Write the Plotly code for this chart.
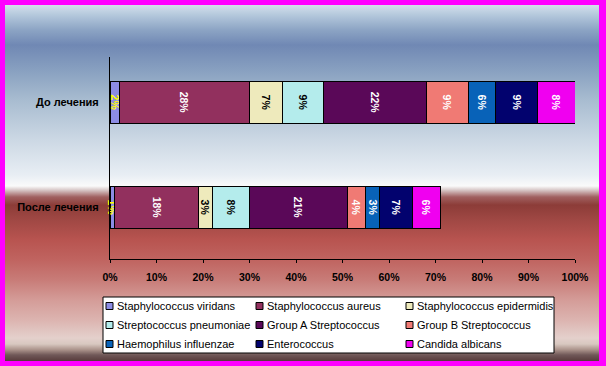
import base64
import plotly.graph_objects as go

# ---------------- data ----------------
categories = ["До лечения", "После лечения"]
series_names = [
    "Staphylococcus viridans", "Staphylococcus aureus", "Staphylococcus epidermidis",
    "Streptococcus pneumoniae", "Group A Streptococcus", "Group B Streptococcus",
    "Haemophilus influenzae", "Enterococcus", "Candida albicans",
]
before_values = [2, 28, 7, 9, 22, 9, 6, 9, 8]
after_values = [1, 18, 3, 8, 21, 4, 3, 7, 6]
x_tick_values = [0, 10, 20, 30, 40, 50, 60, 70, 80, 90, 100]
x_tick_labels = ["0%", "10%", "20%", "30%", "40%", "50%", "60%", "70%", "80%", "90%", "100%"]

# ---------------- styles ----------------
colors = ["#8c8ce4", "#92305e", "#eeeabc", "#b4ecec", "#5a0858",
          "#f07a74", "#0862b8", "#02026e", "#f000f0"]
label_colors = ["#ffff00", "#ffffff", "#000000", "#000000", "#ffffff",
                "#ffffff", "#ffffff", "#ffffff", "#ffffff"]

W, H = 606, 366
L, R, T, B = 110, 31, 57, 107
PW, PH = W - L - R, H - T - B


def px2x(px):
    return (px - L) / PW


def px2y(py):
    return (H - B - py) / PH


fig = go.Figure()
for i, name in enumerate(series_names):
    vals = [before_values[i], after_values[i]]
    fig.add_trace(go.Bar(
        name=name,
        orientation="h",
        y=categories,
        x=vals,
        text=[f"{v}%" for v in vals],
        textposition="inside",
        insidetextanchor="middle",
        textangle=90,
        constraintext="none",
        cliponaxis=False,
        textfont=dict(family="Liberation Sans", size=10.5, color=label_colors[i], weight="bold"),
        marker=dict(color=colors[i], line=dict(color="#000000", width=1)),
        width=0.396,
        hoverinfo="skip",
        showlegend=False,
    ))

# ---------------- background gradient ----------------
stops = [
    (5, "#d4e0ec"), (15, "#b4c8dc"), (30, "#8ca4c4"), (45, "#7088b4"),
    (70, "#88a0c0"), (100, "#a8bcd0"), (140, "#ccd8e4"), (175, "#e8eef4"),
    (186, "#fafafa"), (190, "#d8c8c8"), (197, "#a06060"), (205, "#8c3c38"),
    (220, "#a04844"), (240, "#b85450"), (260, "#c06460"), (280, "#c87c78"),
    (300, "#d49c98"), (320, "#dcb4b0"), (338, "#e4d0cc"), (344, "#d8c8c0"),
    (350, "#a89088"), (355, "#705858"), (361, "#583c3c"),
]
bg_top, bg_bot, bg_left, bg_right = 5, 361, 5, 599
stop_xml = "".join(
    f'<stop offset="{(y - bg_top) / (bg_bot - bg_top):.4f}" stop-color="{c}"/>' for y, c in stops
)
svg = (
    f'<svg xmlns="http://www.w3.org/2000/svg" width="{bg_right - bg_left}" height="{bg_bot - bg_top}" '
    f'viewBox="0 0 {bg_right - bg_left} {bg_bot - bg_top}" preserveAspectRatio="none">'
    f'<defs><linearGradient id="g" x1="0" y1="0" x2="0" y2="1">{stop_xml}</linearGradient></defs>'
    f'<rect x="0" y="0" width="100%" height="100%" fill="url(#g)"/></svg>'
)
src = "data:image/svg+xml;base64," + base64.b64encode(svg.encode()).decode()
fig.add_layout_image(dict(
    source=src, xref="paper", yref="paper",
    x=px2x(bg_left), y=px2y(bg_top),
    sizex=(bg_right - bg_left) / PW, sizey=(bg_bot - bg_top) / PH,
    xanchor="left", yanchor="top", sizing="stretch", layer="below",
))

# ---------------- custom legend ----------------
shapes = [dict(type="rect", xref="paper", yref="paper",
               x0=px2x(103), x1=px2x(554), y0=px2y(297), y1=px2y(353),
               fillcolor="#ffffff", line=dict(color="#000000", width=1), layer="above")]
annotations = []
col_x = [106, 256, 406]
row_y = [306, 325, 344]
for i, name in enumerate(series_names):
    cx = col_x[i % 3]
    cy = row_y[i // 3]
    shapes.append(dict(type="rect", xref="paper", yref="paper",
                       x0=px2x(cx), x1=px2x(cx + 7), y0=px2y(cy - 3.5), y1=px2y(cy + 3.5),
                       fillcolor=colors[i], line=dict(color="#000000", width=1), layer="above"))
    annotations.append(dict(xref="paper", yref="paper", x=px2x(cx + 9), y=px2y(cy),
                            xanchor="left", yanchor="middle", showarrow=False, text=name,
                            font=dict(family="Liberation Sans", size=11, color="#000000")))

fig.update_layout(
    width=W, height=H,
    margin=dict(l=L, r=R, t=T, b=B, pad=0),
    barmode="stack",
    bargap=0.6,
    paper_bgcolor="#ff00ff",
    plot_bgcolor="rgba(0,0,0,0)",
    shapes=shapes,
    annotations=annotations,
    xaxis=dict(
        range=[0, 100], tickvals=x_tick_values, ticktext=x_tick_labels,
        showgrid=False, zeroline=False, showline=True, linecolor="#000000", linewidth=1,
        ticks="outside", ticklen=3, tickcolor="#000000", tickwidth=1, ticklabelstandoff=5,
        tickfont=dict(family="Liberation Sans", size=10.5, color="#000000", weight="bold"),
        fixedrange=True,
    ),
    yaxis=dict(
        type="category", categoryorder="array", categoryarray=categories[::-1],
        range=[-0.4905, 1.4333],
        showgrid=False, zeroline=False, showline=True, linecolor="#000000", linewidth=1,
        ticks="", ticklabelstandoff=8,
        tickfont=dict(family="Liberation Sans", size=11, color="#000000", weight="bold"),
        fixedrange=True,
    ),
)

fig.write_html(
    "out.html",
    config={"displayModeBar": False},
    post_script="document.body.style.margin='0';document.body.style.overflow='hidden';",
)
